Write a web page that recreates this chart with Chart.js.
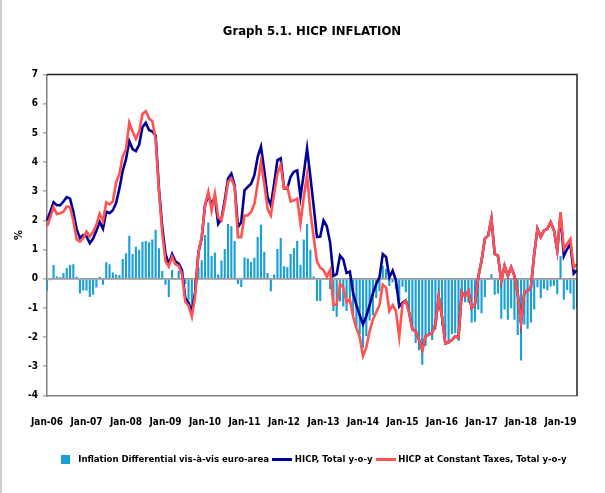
<!DOCTYPE html>
<html>
<head>
<meta charset="utf-8">
<script src="https://cdn.jsdelivr.net/npm/chart.js@4.4.1/dist/chart.umd.min.js"></script>
<style>
  html, body { margin: 0; padding: 0; background: #fff; }
  #wrap { width: 605px; height: 493px; }
</style>
</head>
<body>
<div id="wrap"><canvas id="hicpChart" width="605" height="493"></canvas></div>
<script>
// monthly categories Jan-06 .. Jun-19
const years = ['06', '07', '08', '09', '10', '11', '12', '13', '14', '15', '16', '17', '18', '19'];
const monthNames = ['Jan', 'Feb', 'Mar', 'Apr', 'May', 'Jun', 'Jul', 'Aug', 'Sep', 'Oct', 'Nov', 'Dec'];
const months = [];
years.forEach(y => monthNames.forEach(m => months.push(m + '-' + y)));
months.length = 162;

const yTicks = [-4, -3, -2, -1, 0, 1, 2, 3, 4, 5, 6, 7];

// Inflation differential vis-a-vis euro area (bars)
const differential = [
  -0.42, -0.05, 0.47, 0.08, 0.05, 0.2, 0.37, 0.47, 0.5, 0.07, -0.5, -0.4,
  -0.4, -0.62, -0.55, -0.3, 0.07, -0.2, 0.57, 0.5, 0.22, 0.15, 0.13, 0.68,
  0.88, 1.48, 0.85, 1.1, 1.0, 1.27, 1.3, 1.25, 1.35, 1.68, 1.05, 0.27,
  -0.2, -0.62, 0.3, -0.02, 0.28, 0.02, -0.18, -0.72, -0.97, -0.35, 0.4, 0.64,
  1.5, 1.93, 0.78, 0.9, 0.15, 0.63, 1.02, 1.88, 1.8, 1.3, -0.18, -0.28,
  0.73, 0.7, 0.58, 0.72, 1.43, 1.85, 0.93, 0.2, -0.43, 0.15, 1.02, 1.4,
  0.43, 0.4, 0.85, 1.05, 1.3, 0.48, 1.35, 1.88, 1.0, 0.08, -0.76, -0.76,
  0.02, -0.02, -0.35, -1.1, -1.3, -0.78, -0.95, -1.1, -0.87, -1.18, -1.65, -1.9,
  -2.37, -1.97, -1.43, -1.25, -0.66, -0.43, 0.45, 0.34, -0.25, -0.12, -0.35, -0.75,
  -0.27, -0.46, -1.06, -1.74, -2.2, -2.45, -2.95, -2.3, -1.9, -2.1, -1.75, -0.82,
  -1.6, -2.02, -2.18, -1.9, -1.87, -2.12, -0.65, -0.8, -0.82, -1.5, -1.47, -1.05,
  -1.18, -0.63, -0.02, 0.16, -0.55, -0.51, -1.37, -1.05, -1.4, -1.01, -1.4, -1.93,
  -2.8, -1.57, -1.71, -1.5, -1.05, -0.29, -0.67, -0.34, -0.39, -0.26, -0.24, -0.53,
  0.78, -0.72, -0.38, -0.5, -1.05, -1.0
];

// HICP, total y-o-y
const hicp = [
  2.0, 2.3, 2.62, 2.52, 2.52, 2.65, 2.8, 2.75, 2.3, 1.7, 1.4, 1.5,
  1.45, 1.22, 1.38, 1.65, 1.95, 1.72, 2.3, 2.25, 2.35, 2.6, 3.1, 3.7,
  4.1, 4.72, 4.45, 4.38, 4.6, 5.2, 5.35, 5.1, 5.05, 4.92, 3.1, 1.8,
  0.85, 0.5, 0.85, 0.6, 0.52, 0.3, -0.65, -0.82, -1.15, -0.45, 0.9, 1.4,
  2.52, 2.85, 2.57, 2.8, 1.88, 2.06, 2.69, 3.44, 3.6, 3.2, 1.77, 1.94,
  3.03, 3.15, 3.26, 3.55, 4.18, 4.53, 3.72, 2.8, 2.52, 3.26, 4.07, 4.13,
  3.1, 3.1, 3.5, 3.67, 3.72, 2.8, 3.6, 4.47, 3.5, 2.5, 1.43, 1.45,
  2.0, 1.8, 1.25, 0.1, 0.16, 0.8, 0.66, 0.2, 0.25, -0.5, -0.9, -1.25,
  -1.56, -1.28, -0.9, -0.5, -0.18, 0.05, 0.85, 0.75, 0.05, 0.28, -0.05, -0.95,
  -0.82, -0.74, -1.14, -1.74, -1.8, -2.08, -2.43, -1.97, -1.91, -1.85, -1.56, -0.62,
  -1.3, -2.22, -2.18, -2.1, -1.97, -2.02, -0.45, -0.6, -0.42, -1.0, -0.87, 0.05,
  0.62, 1.37, 1.48, 2.06, 0.85, 0.79, -0.07, 0.45, 0.1, 0.39, 0.1, -0.53,
  -1.5, -0.47, -0.41, -0.3, 0.85, 1.71, 1.43, 1.66, 1.71, 1.94, 1.66, 0.97,
  2.2, 0.78, 1.02, 1.2, 0.18, 0.3
];

// HICP at constant taxes, total y-o-y
const hicpCT = [
  1.8, 2.1, 2.45, 2.22, 2.25, 2.3, 2.48, 2.45, 2.0, 1.35, 1.28, 1.4,
  1.62, 1.45, 1.6, 1.85, 2.23, 1.97, 2.62, 2.55, 2.65, 3.3, 3.6, 4.2,
  4.45, 5.35, 5.05, 4.8, 5.05, 5.65, 5.75, 5.5, 5.4, 4.8, 3.0, 1.6,
  0.6, 0.42, 0.76, 0.5, 0.44, 0.16, -0.78, -0.92, -1.3, -0.6, 0.9, 1.45,
  2.52, 2.98, 2.34, 2.92, 2.11, 2.0, 2.57, 3.32, 3.44, 3.15, 1.43, 1.43,
  2.17, 2.17, 2.29, 2.57, 3.26, 4.01, 3.26, 2.4, 2.17, 2.92, 3.6, 3.9,
  3.1, 3.15, 2.65, 2.69, 2.75, 1.9, 2.8, 3.55, 2.3, 1.43, 0.6, 0.38,
  0.3, 0.07, 0.3, -0.9, -0.88, -0.17, -0.3, -0.8, -0.7, -1.3, -1.7, -2.0,
  -2.65, -2.35, -1.8, -1.4, -1.15, -0.9, -0.2, -0.3, -1.1, -0.9, -1.1, -2.0,
  -0.87, -0.76, -1.16, -1.74, -1.8, -2.08, -2.43, -1.97, -1.91, -1.85, -1.56, -0.62,
  -1.3, -2.22, -2.18, -2.1, -1.97, -2.02, -0.45, -0.6, -0.42, -1.0, -0.87, 0.05,
  0.62, 1.37, 1.48, 2.06, 0.85, 0.79, -0.07, 0.45, 0.1, 0.39, 0.1, -0.53,
  -1.5, -0.47, -0.41, -0.3, 0.85, 1.71, 1.43, 1.66, 1.71, 1.94, 1.66, 0.97,
  2.29, 1.02, 1.2, 1.37, 0.39, 0.5
];

const FONT = "'DejaVu Sans Condensed', 'Liberation Sans Narrow', sans-serif";
const barColor = '#1aa0d6';
const navy = '#000099';
const red = '#ff5252';

// small legend swatches
function swatch(w, h, color) {
  const c = document.createElement('canvas');
  c.width = w; c.height = h;
  const g = c.getContext('2d');
  g.fillStyle = color;
  g.fillRect(0, 0, w, h);
  return c;
}

const frame = {
  id: 'frame',
  beforeDraw(chart) {
    const g = chart.ctx;
    g.save();
    g.fillStyle = '#fff';
    g.fillRect(0, 0, chart.width, chart.height);
    g.fillStyle = '#cfcfcf';
    g.fillRect(0, 0, 2, chart.height);
    g.restore();
  },
  afterDatasetsDraw(chart) {
    const {left, right, top, bottom} = chart.chartArea;
    const g = chart.ctx;
    g.save();
    g.strokeStyle = '#222';
    g.lineWidth = 1.5;
    g.beginPath();
    g.moveTo(left, top);
    g.lineTo(right, top);
    g.lineTo(right, bottom);
    g.stroke();
    g.restore();
  }
};

const ctx = document.getElementById('hicpChart').getContext('2d');
const hicpChart = new Chart(ctx, {
  data: {
    labels: months,
    datasets: [
      {
        type: 'bar',
        label: 'Inflation Differential vis-à-vis euro-area',
        data: differential,
        backgroundColor: barColor,
        barPercentage: 0.65,
        categoryPercentage: 1,
        order: 3,
        pointStyle: swatch(9, 9, barColor)
      },
      {
        type: 'line',
        label: 'HICP, Total y-o-y',
        data: hicp,
        borderColor: navy,
        backgroundColor: navy,
        borderWidth: 2.6,
        pointRadius: 0,
        tension: 0,
        order: 2,
        pointStyle: swatch(20, 3, navy)
      },
      {
        type: 'line',
        label: 'HICP at Constant Taxes, Total y-o-y',
        data: hicpCT,
        borderColor: red,
        backgroundColor: red,
        borderWidth: 2.6,
        pointRadius: 0,
        tension: 0,
        order: 1,
        pointStyle: swatch(20, 3, red)
      }
    ]
  },
  options: {
    responsive: false,
    animation: false,
    devicePixelRatio: 1,
    layout: { padding: { left: 10, right: 28, top: 0, bottom: 19 } },
    scales: {
      x: {
        type: 'category',
        offset: false,
        grid: { display: false },
        border: { display: true, color: '#808080', width: 1.5 },
        ticks: {
          autoSkip: false,
          maxRotation: 0,
          padding: 13,
          color: '#000',
          font: { family: FONT, size: 10, weight: 'bold' },
          callback: (v, i) => (i % 12 === 0 ? months[i] : '')
        },
        afterFit: s => { s.height = 54; }
      },
      y: {
        min: yTicks[0],
        max: yTicks[yTicks.length - 1],
        afterBuildTicks: s => { s.ticks = yTicks.map(v => ({ value: v })); },
        grid: {
          drawOnChartArea: true,
          color: c => (c.tick && c.tick.value === 0 ? '#9a9a9a' : 'rgba(0,0,0,0)'),
          lineWidth: 1.8,
          tickColor: '#808080',
          tickLength: 4,
          tickWidth: 1
        },
        border: { display: true, color: '#808080', width: 1.5 },
        ticks: {
          padding: 5,
          color: '#000',
          font: { family: FONT, size: 10, weight: 'bold' }
        },
        title: {
          display: true,
          text: '%',
          color: '#000',
          padding: { top: 3, bottom: 0 },
          font: { family: FONT, size: 11, weight: 'bold' }
        },
        afterFit: s => { s.width = 37; }
      }
    },
    plugins: {
      title: {
        display: true,
        fullSize: false,
        text: 'Graph 5.1. HICP INFLATION',
        color: '#000',
        font: { family: FONT, size: 13, weight: 'bold' },
        padding: { top: 24, bottom: 35 }
      },
      legend: {
        position: 'bottom',
        fullSize: false,
        labels: {
          usePointStyle: true,
          pointStyleWidth: 16,
          padding: 5,
          color: '#000',
          font: { family: FONT, size: 9.5, weight: 'bold' },
          sort: (a, b) => a.datasetIndex - b.datasetIndex
        }
      },
      tooltip: { enabled: false }
    }
  },
  plugins: [frame]
});
</script>
</body>
</html>
